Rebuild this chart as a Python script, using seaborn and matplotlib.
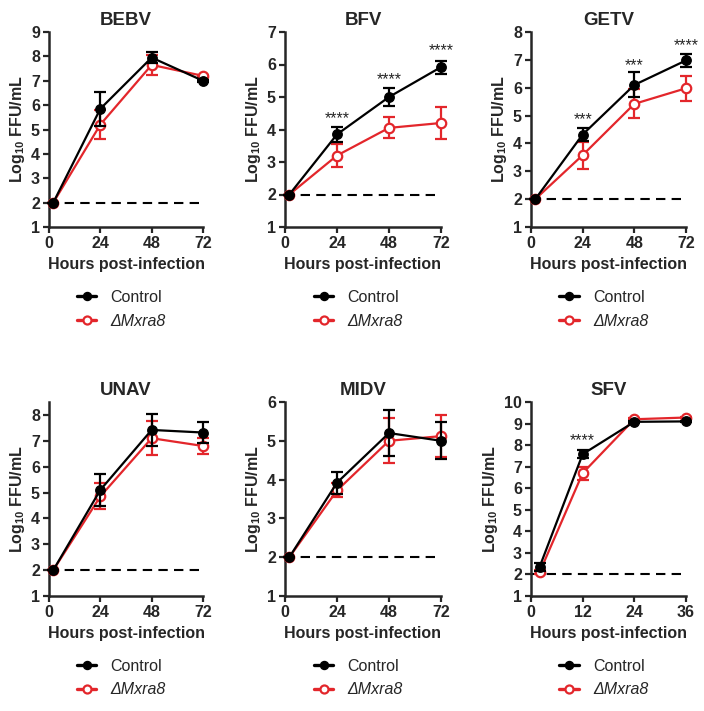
import matplotlib
matplotlib.use("Agg")
import matplotlib.pyplot as plt
import seaborn as sns
import pandas as pd

# ---------------- data ----------------
viruses = ["BEBV", "BFV", "GETV", "UNAV", "MIDV", "SFV"]
hours_long = [2, 24, 48, 72]
hours_sfv = [2, 12, 24, 36]

bebv_ctrl = [2.0, 5.85, 7.95, 7.0]
bebv_ctrl_sd = [0.0, 0.7, 0.22, 0.05]
bebv_ko = [2.0, 5.2, 7.65, 7.2]
bebv_ko_sd = [0.0, 0.6, 0.42, 0.05]

bfv_ctrl = [2.0, 3.85, 5.0, 5.92]
bfv_ctrl_sd = [0.0, 0.22, 0.28, 0.2]
bfv_ko = [2.0, 3.2, 4.05, 4.2]
bfv_ko_sd = [0.0, 0.36, 0.32, 0.49]

getv_ctrl = [2.0, 4.32, 6.1, 6.98]
getv_ctrl_sd = [0.0, 0.22, 0.45, 0.24]
getv_ko = [2.0, 3.58, 5.42, 5.98]
getv_ko_sd = [0.0, 0.48, 0.52, 0.45]

unav_ctrl = [2.0, 5.1, 7.42, 7.32]
unav_ctrl_sd = [0.0, 0.62, 0.62, 0.4]
unav_ko = [2.0, 4.85, 7.1, 6.8]
unav_ko_sd = [0.0, 0.5, 0.65, 0.32]

midv_ctrl = [2.0, 3.92, 5.2, 5.0]
midv_ctrl_sd = [0.0, 0.28, 0.6, 0.48]
midv_ko = [2.0, 3.72, 5.0, 5.12]
midv_ko_sd = [0.0, 0.18, 0.58, 0.55]

sfv_ctrl = [2.35, 7.58, 9.08, 9.1]
sfv_ctrl_sd = [0.2, 0.2, 0.04, 0.04]
sfv_ko = [2.1, 6.7, 9.2, 9.28]
sfv_ko_sd = [0.1, 0.3, 0.04, 0.04]

y_limits = [(1, 9), (1, 7), (1, 8), (1, 8.5), (1, 6), (1, 10)]
y_ticks = [range(1, 10), range(1, 8), range(1, 9), range(1, 9), range(1, 7), range(1, 11)]
x_ticks_long = [0, 24, 48, 72]
x_ticks_sfv = [0, 12, 24, 36]

# significance annotations
stars_virus = ["BFV", "BFV", "BFV", "GETV", "GETV", "GETV", "SFV"]
stars_x = [24, 48, 72, 24, 48, 72, 12]
stars_y = [4.45, 5.65, 6.55, 5.0, 6.93, 7.65, 8.38]
stars_label = ["****", "****", "****", "***", "***", "****", "****"]

# ---------------- style ----------------
sns.set_style("ticks")
plt.rcParams["font.family"] = ["Liberation Sans", "DejaVu Sans"]
plt.rcParams["mathtext.fontset"] = "custom"
plt.rcParams["mathtext.rm"] = "Liberation Sans"
plt.rcParams["mathtext.bf"] = "Liberation Sans:bold"
plt.rcParams["mathtext.it"] = "Liberation Sans:italic"

RED = "#E3262B"
BLACK = "#000000"
KO_LABEL = "ΔMxra8"

series = {
    "BEBV": (hours_long, bebv_ctrl, bebv_ctrl_sd, bebv_ko, bebv_ko_sd),
    "BFV": (hours_long, bfv_ctrl, bfv_ctrl_sd, bfv_ko, bfv_ko_sd),
    "GETV": (hours_long, getv_ctrl, getv_ctrl_sd, getv_ko, getv_ko_sd),
    "UNAV": (hours_long, unav_ctrl, unav_ctrl_sd, unav_ko, unav_ko_sd),
    "MIDV": (hours_long, midv_ctrl, midv_ctrl_sd, midv_ko, midv_ko_sd),
    "SFV": (hours_sfv, sfv_ctrl, sfv_ctrl_sd, sfv_ko, sfv_ko_sd),
}

fig = plt.figure(figsize=(7.04, 7.11), dpi=100)
W, H = 704.0, 711.0
col_left = [49, 285, 531]
col_width = [154, 156, 155]
row_top = [32, 402]
row_bottom = [227, 596]

for i, v in enumerate(viruses):
    r, c = divmod(i, 3)
    ax = fig.add_axes([col_left[c] / W, 1 - row_bottom[r] / H,
                       col_width[c] / W, (row_bottom[r] - row_top[r]) / H])
    hrs, cm, cs, km, ks = series[v]
    df = pd.DataFrame({"Hours": hrs * 2, "Titer": cm + km,
                       "Group": ["Control"] * len(hrs) + ["KO"] * len(hrs)})
    xmax = hrs[-1]

    ax.plot([0, xmax], [2, 2], ls=(0, (4.5, 3)), color="black", lw=1.5, zorder=1)

    dko = df[df.Group == "KO"]
    dct = df[df.Group == "Control"]
    ax.errorbar(hrs, km, yerr=ks, fmt="none", ecolor=RED, elinewidth=1.6,
                capsize=4.3, capthick=1.6, zorder=2, clip_on=False)
    sns.lineplot(data=dko, x="Hours", y="Titer", ax=ax, color=RED, lw=1.6,
                 marker="o", markersize=6.8, markerfacecolor="white",
                 markeredgecolor=RED, markeredgewidth=1.6,
                 label=KO_LABEL, zorder=3, clip_on=False)
    ax.errorbar(hrs, cm, yerr=cs, fmt="none", ecolor=BLACK, elinewidth=1.6,
                capsize=4.3, capthick=1.6, zorder=4, clip_on=False)
    sns.lineplot(data=dct, x="Hours", y="Titer", ax=ax, color=BLACK, lw=1.6,
                 marker="o", markersize=6.8, markerfacecolor=BLACK,
                 markeredgecolor=BLACK, markeredgewidth=1.0,
                 label="Control", zorder=5, clip_on=False)

    for sv, sx, sy, sl in zip(stars_virus, stars_x, stars_y, stars_label):
        if sv == v:
            ax.annotate(sl, (sx, sy), xytext=(0, -6), textcoords="offset points",
                        ha="center", va="baseline", fontsize=11.5)

    ax.set_xlim(0, xmax)
    ax.set_ylim(*y_limits[i])
    ax.set_xticks(x_ticks_sfv if v == "SFV" else x_ticks_long)
    ax.set_yticks(list(y_ticks[i]))
    ax.set_title(v, fontsize=13.5, fontweight="bold", pad=5)
    ax.set_xlabel("Hours post-infection", fontsize=11.5, fontweight="bold", labelpad=4)
    ax.set_ylabel("Log$_{\\mathbf{10}}$ FFU/mL", fontsize=11.5, fontweight="bold", labelpad=3)
    for lab in ax.get_xticklabels() + ax.get_yticklabels():
        lab.set_fontweight("bold")
        lab.set_fontsize(11.5)
    ax.tick_params(width=1.6, length=4.5, pad=2)
    sns.despine(ax=ax)
    for s in ["left", "bottom"]:
        ax.spines[s].set_linewidth(1.8)

    handles, labels = ax.get_legend_handles_labels()
    order = [labels.index("Control"), labels.index(KO_LABEL)]
    leg = ax.legend([handles[k] for k in order], [labels[k] for k in order],
                    loc="upper center", bbox_to_anchor=(0.47, -0.29), frameon=False,
                    fontsize=11.5, handlelength=1.2, handletextpad=0.9,
                    labelspacing=0.55, borderaxespad=0, markerscale=0.85)
    for ln in leg.get_lines():
        ln.set_linewidth(2.4)
    leg.get_texts()[1].set_fontstyle("italic")

fig.savefig("out.png", dpi=100)
